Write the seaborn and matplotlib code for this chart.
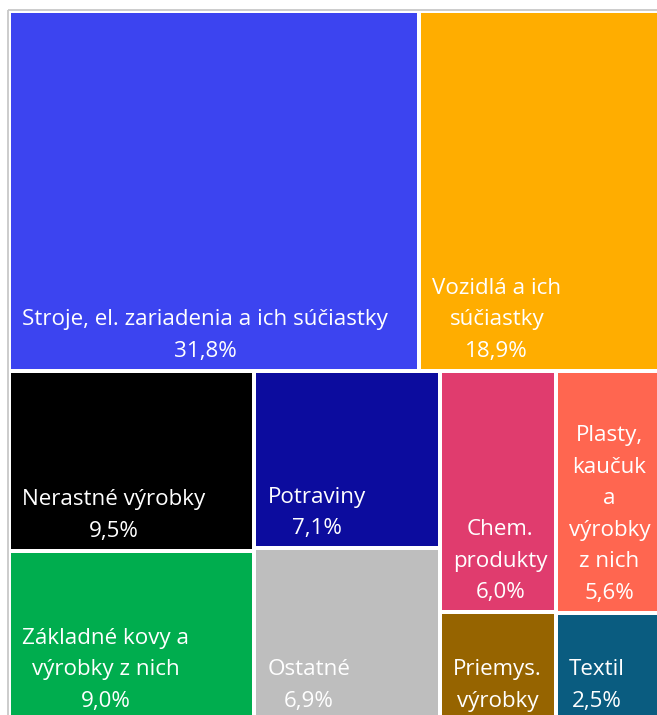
import matplotlib
matplotlib.use("Agg")
import matplotlib.pyplot as plt
from matplotlib.patches import Rectangle
import seaborn as sns

# ---- data ----
top_labels = ["Stroje, el. zariadenia a ich súčiastky", "Vozidlá a ich\nsúčiastky"]
top_values = [31.8, 18.9]
top_colors = ["#3C44F0", "#FFAD00"]

# bottom part: columns, each with two stacked categories
col_labels = [
    ["Nerastné výrobky", "Základné kovy a\nvýrobky z nich"],
    ["Potraviny", "Ostatné"],
    ["Chem.\nprodukty", "Priemys.\nvýrobky"],
    ["Plasty,\nkaučuk\na\nvýrobky\nz nich", "Textil"],
]
col_values = [
    [9.5, 9.0],
    [7.1, 6.9],
    [6.0, 2.7],
    [5.6, 2.5],
]
col_colors = [
    ["#000000", "#00AD4E"],
    ["#0C0C9E", "#BEBEBE"],
    ["#E03C6E", "#966400"],
    ["#FF6650", "#0A5C80"],
]

# ---- figure ----
sns.set_theme(style="white")
plt.rcParams["font.family"] = ["Open Sans", "DejaVu Sans"]

W_PX, H_PX = 657, 715
fig = plt.figure(figsize=(W_PX / 100, H_PX / 100), dpi=100)
ax = fig.add_axes([0, 0, 1, 1])
ax.set_xlim(0, W_PX)
ax.set_ylim(H_PX, 0)
ax.axis("off")

# treemap extent (in pixel units of the axes)
X0, Y0, TW, TH = 9.0, 11.0, 654.0, 710.0
GAP = 2.0
PAD_X = 11.0
PAD_B = 7.0
FS = 16.1
LSP = 1.66
LINE_PX = 32.0

# outer frame
ax.add_patch(Rectangle((X0 - 1.5, Y0 - 1.0), TW + 20, TH + 20, fill=False,
                       edgecolor="#C8C8C8", lw=1.3, zorder=0))

total = sum(top_values) + sum(sum(c) for c in col_values)


def fmt(v):
    return f"{v:.1f}".replace(".", ",") + "%"


def draw_cell(x, y, w, h, label, value, color):
    ax.add_patch(Rectangle((x + GAP, y + GAP), w - 2 * GAP, h - 2 * GAP,
                           facecolor=color, edgecolor="none", zorder=1))
    text = label + "\n" + fmt(value)
    n_lines = text.count("\n") + 1
    if n_lines * LINE_PX + 2 * PAD_B > h - 2 * GAP:
        # not enough room for the value line: show the category only
        text = label
    ax.text(x + GAP + PAD_X, y + h - GAP - PAD_B, text, color="white",
            fontsize=FS, ha="left", va="bottom", multialignment="center",
            linespacing=LSP, zorder=2)


# top row
top_h = TH * sum(top_values) / total
cx = X0
for lab, v, c in zip(top_labels, top_values, top_colors):
    w = TW * v / sum(top_values)
    draw_cell(cx, Y0, w, top_h, lab, v, c)
    cx += w

# bottom row
bot_y = Y0 + top_h
bot_h = TH - top_h
bot_total = sum(sum(c) for c in col_values)
cx = X0
for labs, vals, cols in zip(col_labels, col_values, col_colors):
    cw = TW * sum(vals) / bot_total
    cy = bot_y
    for lab, v, c in zip(labs, vals, cols):
        h = bot_h * v / sum(vals)
        draw_cell(cx, cy, cw, h, lab, v, c)
        cy += h
    cx += cw

fig.savefig("out.png", dpi=100)
